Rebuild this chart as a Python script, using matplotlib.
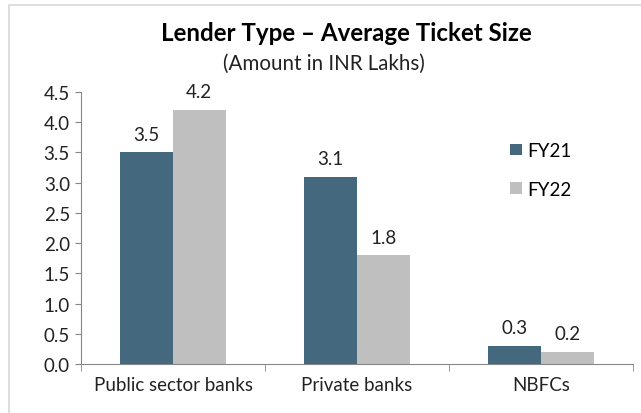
import matplotlib
matplotlib.use('Agg')
import matplotlib.pyplot as plt
import numpy as np
from matplotlib.patches import Rectangle

categories = ['Public sector banks', 'Private banks', 'NBFCs']
fy21 = [3.5, 3.1, 0.3]
fy22 = [4.2, 1.8, 0.2]
series_names = ['FY21', 'FY22']

plt.rcParams['font.family'] = ['Lato', 'DejaVu Sans']

fig = plt.figure(figsize=(6.41, 4.14), dpi=100)
ax = fig.add_axes([0.1264, 0.1184, 0.8611, 0.657])

# light frame of the chart area (top and left only visible)
fig.patches.append(Rectangle((9 / 641, -0.2), 1.2, 1.2 - 6 / 414,
                             transform=fig.transFigure, fill=False,
                             edgecolor='#d9d9d9', linewidth=1.2))

x = np.arange(len(categories))
w = 0.286
b1 = ax.bar(x - w / 2, fy21, w, color='#44687e', label=series_names[0])
b2 = ax.bar(x + w / 2, fy22, w, color='#bfbfbf', label=series_names[1])

for bars, vals in [(b1, fy21), (b2, fy22)]:
    for bar, v in zip(bars, vals):
        ax.text(bar.get_x() + bar.get_width() / 2, v + 0.16, f'{v:.1f}',
                ha='center', va='bottom', fontsize=13.5, color='#222222')

ax.set_xlim(-0.5, 2.5)
ax.set_ylim(0, 4.5)
ax.set_yticks(np.arange(0, 4.51, 0.5))
ax.set_yticklabels([f'{t:.1f}' for t in np.arange(0, 4.51, 0.5)])
ax.set_xticks(x)
ax.set_xticklabels(categories)
ax.set_xticks([-0.5, 0.5, 1.5, 2.5], minor=True)

for s in ['top', 'right']:
    ax.spines[s].set_visible(False)
for s in ['left', 'bottom']:
    ax.spines[s].set_color('#868686')
    ax.spines[s].set_linewidth(0.8)

ax.tick_params(axis='y', length=4, color='#868686', labelsize=13.5,
               labelcolor='#222222', pad=4)
ax.tick_params(axis='x', which='major', length=0, labelsize=13.5,
               labelcolor='#222222', pad=9)
ax.tick_params(axis='x', which='minor', length=5, color='#868686')

fig.text(0.541, 0.92, 'Lender Type \u2013 Average Ticket Size',
         ha='center', va='center', fontsize=17.4, fontweight='bold')
fig.text(0.505, 0.845, '(Amount in INR Lakhs)', ha='center', va='center',
         fontsize=14.8, color='#222222')

ax.legend(loc='upper left', bbox_to_anchor=(0.77, 0.695),
          bbox_transform=fig.transFigure, frameon=False, fontsize=13.5,
          handlelength=0.6, handleheight=0.6, handletextpad=0.3,
          labelspacing=1.15)

fig.savefig('out.png', dpi=100)
